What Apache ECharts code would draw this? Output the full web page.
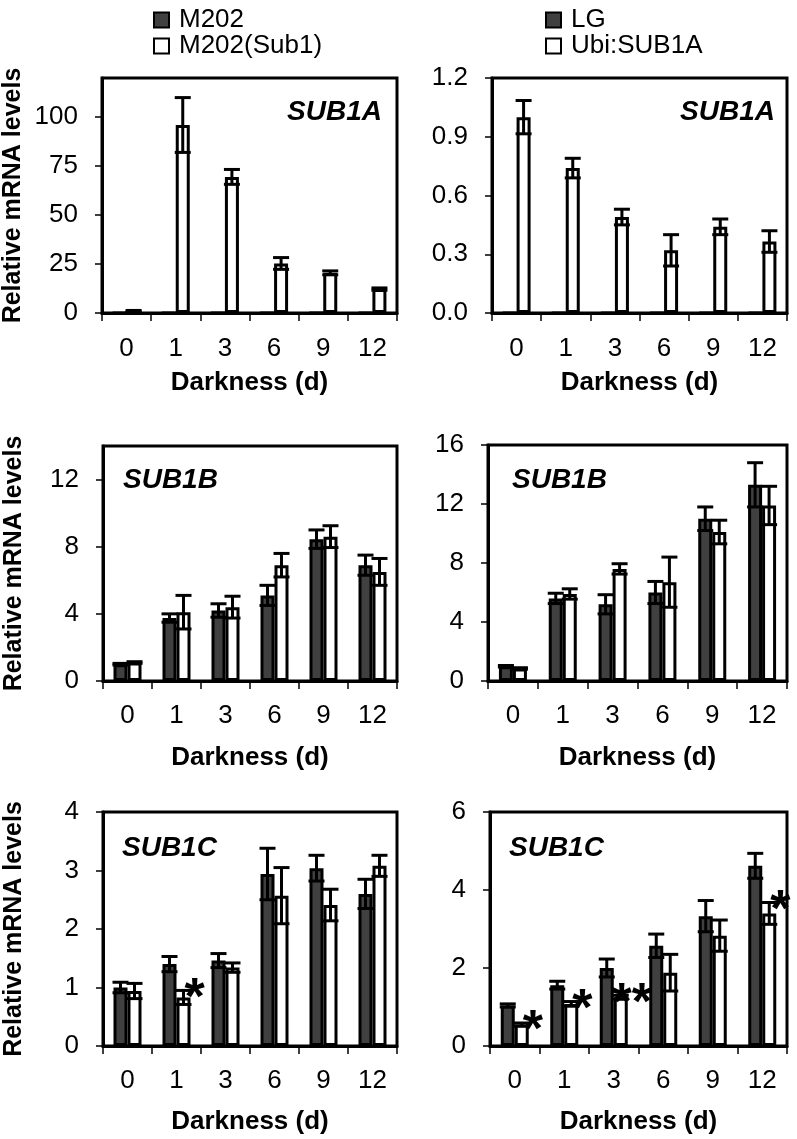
<!DOCTYPE html>
<html>
<head>
<meta charset="utf-8">
<script src="https://cdn.jsdelivr.net/npm/echarts@6/dist/echarts.min.js"></script>
<style>html,body{margin:0;padding:0;background:#fff;}#c{width:797px;height:1139px;}</style>
</head>
<body>
<div id="c"></div>
<script>
const categories = ['0','1','3','6','9','12'];

// Row 1: SUB1A
const aM202 = [0, 0, 0, 0, 0, 0];
const aM202Err = [0, 0, 0, 0, 0, 0];
const aM202Sub1 = [1.0, 96, 69.5, 25.3, 20.5, 12.2];
const aM202Sub1Err = [0.3, 14, 3.8, 3, 1, 0.6];
const aLG = [0, 0, 0, 0, 0, 0];
const aLGErr = [0, 0, 0, 0, 0, 0];
const aUbi = [1.0, 0.74, 0.49, 0.32, 0.44, 0.365];
const aUbiErr = [0.085, 0.05, 0.04, 0.08, 0.04, 0.055];

// Row 2: SUB1B
const bM202 = [1.0, 3.75, 4.2, 5.1, 8.45, 6.9];
const bM202Err = [0.05, 0.25, 0.4, 0.6, 0.55, 0.6];
const bM202Sub1 = [1.1, 4.1, 4.4, 6.9, 8.6, 6.5];
const bM202Sub1Err = [0.05, 1.0, 0.65, 0.7, 0.65, 0.8];
const bLG = [1.0, 5.6, 5.2, 6.0, 11.0, 13.3];
const bLGErr = [0.05, 0.35, 0.65, 0.75, 0.8, 1.5];
const bUbi = [0.85, 5.9, 7.6, 6.7, 10.1, 11.9];
const bUbiErr = [0.05, 0.35, 0.35, 1.7, 0.8, 1.3];

// Row 3: SUB1C
const cM202 = [1.0, 1.4, 1.46, 2.94, 3.04, 2.6];
const cM202Err = [0.09, 0.13, 0.12, 0.44, 0.22, 0.25];
const cM202Sub1 = [0.94, 0.83, 1.34, 2.57, 2.41, 3.08];
const cM202Sub1Err = [0.13, 0.12, 0.08, 0.48, 0.27, 0.18];
const cM202Sig = ['', '*', '', '', '', ''];
const cLG = [1.04, 1.56, 2.0, 2.57, 3.33, 4.62];
const cLGErr = [0.04, 0.1, 0.23, 0.3, 0.4, 0.32];
const cUbi = [0.55, 1.08, 1.25, 1.88, 2.83, 3.4];
const cUbiErr = [0.04, 0.06, 0.05, 0.47, 0.4, 0.28];
const cUbiSig = ['*', '*', '**', '', '', '*'];

// y-axis settings per panel
const yMax = [120, 1.2, 14, 16, 4, 6];
const yInterval = [25, 0.3, 4, 4, 1, 2];
const geneLabels = ['SUB1A', 'SUB1A', 'SUB1B', 'SUB1B', 'SUB1C', 'SUB1C'];

const FONT = "'Liberation Sans', Arial, sans-serif";
const BW = 14;
const DARK = '#404040';

const grids = [
  {left: 102, top: 78, width: 295, height: 235},
  {left: 492, top: 78, width: 295, height: 235},
  {left: 103, top: 446, width: 294, height: 235},
  {left: 488, top: 445, width: 299, height: 236},
  {left: 103, top: 812, width: 294, height: 234},
  {left: 490, top: 812, width: 297, height: 234}
];
const labelMargin = [23, 23, 22, 22, 22, 22];
const nameGapX = [57, 57, 64, 64, 63, 63];

const panels = [
  {dark: aM202, darkErr: aM202Err, white: aM202Sub1, whiteErr: aM202Sub1Err, dn: 'M202', wn: 'M202(Sub1)', sig: null},
  {dark: aLG, darkErr: aLGErr, white: aUbi, whiteErr: aUbiErr, dn: 'LG', wn: 'Ubi:SUB1A', sig: null},
  {dark: bM202, darkErr: bM202Err, white: bM202Sub1, whiteErr: bM202Sub1Err, dn: 'M202', wn: 'M202(Sub1)', sig: null},
  {dark: bLG, darkErr: bLGErr, white: bUbi, whiteErr: bUbiErr, dn: 'LG', wn: 'Ubi:SUB1A', sig: null},
  {dark: cM202, darkErr: cM202Err, white: cM202Sub1, whiteErr: cM202Sub1Err, dn: 'M202', wn: 'M202(Sub1)', sig: cM202Sig},
  {dark: cLG, darkErr: cLGErr, white: cUbi, whiteErr: cUbiErr, dn: 'LG', wn: 'Ubi:SUB1A', sig: cUbiSig}
];

const xAxes = [], yAxes = [], series = [];
grids.forEach((g, i) => {
  xAxes.push({
    type: 'category', gridIndex: i, data: categories,
    name: 'Darkness (d)', nameLocation: 'middle', nameGap: nameGapX[i],
    nameTextStyle: {fontFamily: FONT, fontSize: 26, fontWeight: 'bold', color: '#000', verticalAlign: 'top'},
    axisLine: {lineStyle: {color: '#000', width: 3}},
    axisTick: {show: true, inside: false, length: 8, alignWithLabel: false, lineStyle: {color: '#000', width: 1.5}},
    axisLabel: {fontFamily: FONT, fontSize: 26, color: '#000', margin: labelMargin[i], interval: 0}
  });
  const left = (i % 2 === 0);
  const ratio = yMax[i] / yInterval[i];
  yAxes.push({
    type: 'value', gridIndex: i, min: 0, max: yMax[i], interval: yInterval[i],
    name: left ? 'Relative mRNA levels' : '', nameLocation: 'middle', nameGap: 76,
    nameTextStyle: {fontFamily: FONT, fontSize: 25, fontWeight: 'bold', color: '#000'},
    axisLine: {show: true, lineStyle: {color: '#000', width: 3}},
    axisTick: {show: true, inside: false, length: 7, lineStyle: {color: '#000', width: 1.5}},
    splitLine: {show: false},
    axisLabel: {
      fontFamily: FONT, fontSize: 26, color: '#000', margin: 24,
      showMaxLabel: Math.abs(ratio - Math.round(ratio)) < 1e-9,
      formatter: (v) => (i === 1 ? v.toFixed(1) : String(v))
    }
  });
  const p = panels[i];
  series.push({
    type: 'bar', name: p.dn, xAxisIndex: i, yAxisIndex: i, data: p.dark,
    barWidth: BW, barGap: '0%',
    itemStyle: {color: DARK, borderColor: '#000', borderWidth: 3},
    z: 2
  });
  series.push({
    type: 'bar', name: p.wn, xAxisIndex: i, yAxisIndex: i, data: p.white,
    barWidth: BW, barGap: '0%',
    itemStyle: {color: '#fff', borderColor: '#000', borderWidth: 3},
    z: 2
  });
  const errData = [];
  p.dark.forEach((v, k) => { if (v > 0) errData.push([k, v, p.darkErr[k], -1]); });
  p.white.forEach((v, k) => { if (v > 0) errData.push([k, v, p.whiteErr[k], 1]); });
  series.push({
    type: 'custom', xAxisIndex: i, yAxisIndex: i, data: errData, z: 5, silent: true,
    encode: {x: 0, y: 1},
    renderItem: (params, api) => {
      const k = api.value(0), v = api.value(1), e = api.value(2), side = api.value(3);
      const c = api.coord([k, v]);
      const t = api.coord([k, v + e]);
      const b = api.coord([k, Math.max(v - e, 0)]);
      const x = c[0] + side * BW / 2;
      const hw = BW / 2 + 1;
      const st = {stroke: '#000', lineWidth: 3};
      return {type: 'group', children: [
        {type: 'line', shape: {x1: x, y1: t[1], x2: x, y2: b[1]}, style: st},
        {type: 'line', shape: {x1: x - hw, y1: t[1], x2: x + hw, y2: t[1]}, style: st},
        {type: 'line', shape: {x1: x - hw, y1: b[1], x2: x + hw, y2: b[1]}, style: st}
      ]};
    }
  });
  if (p.sig) {
    const sigData = [];
    p.sig.forEach((s, k) => { if (s) sigData.push([k, p.white[k] + p.whiteErr[k]]); });
    const sigText = p.sig.filter(s => s);
    series.push({
      type: 'custom', xAxisIndex: i, yAxisIndex: i, data: sigData, z: 6, silent: true,
      encode: {x: 0, y: 1},
      renderItem: (params, api) => {
        const c = api.coord([api.value(0), api.value(1)]);
        return {type: 'text', style: {
          text: sigText[params.dataIndex], x: c[0] + BW / 2 + 11, y: c[1] + 9,
          fill: '#000', font: 'bold 52px ' + FONT, align: 'center', verticalAlign: 'middle'
        }};
      }
    });
  }
});

const geneGraphics = [
  {x: 382, y: 112, align: 'right'},
  {x: 775, y: 112, align: 'right'},
  {x: 123, y: 480, align: 'left'},
  {x: 512, y: 480, align: 'left'},
  {x: 122, y: 848, align: 'left'},
  {x: 509, y: 848, align: 'left'}
].map((g, i) => ({
  type: 'text', x: g.x, y: g.y,
  style: {text: geneLabels[i], fill: '#000', font: 'italic bold 28px ' + FONT, align: g.align, verticalAlign: 'middle'}
}));

const legendCommon = {
  orient: 'vertical', icon: 'rect', itemWidth: 15, itemHeight: 15, itemGap: 0,
  textStyle: {fontFamily: FONT, fontSize: 26, color: '#000', padding: [0, 0, 0, 5]},
  itemStyle: {borderColor: '#000', borderWidth: 2},
  selectedMode: false
};

const chart = echarts.init(document.getElementById('c'), null, {renderer: 'canvas'});
chart.setOption({
  animation: false,
  backgroundColor: '#fff',
  grid: grids.map(g => Object.assign({show: true, borderColor: '#000', borderWidth: 3, backgroundColor: 'transparent', containLabel: false}, g)),
  xAxis: xAxes,
  yAxis: yAxes,
  legend: [
    Object.assign({left: 148, top: 2, data: ['M202', 'M202(Sub1)']}, legendCommon),
    Object.assign({left: 540, top: 2, data: ['LG', 'Ubi:SUB1A']}, legendCommon)
  ],
  graphic: geneGraphics,
  series: series
});
</script>
</body>
</html>
